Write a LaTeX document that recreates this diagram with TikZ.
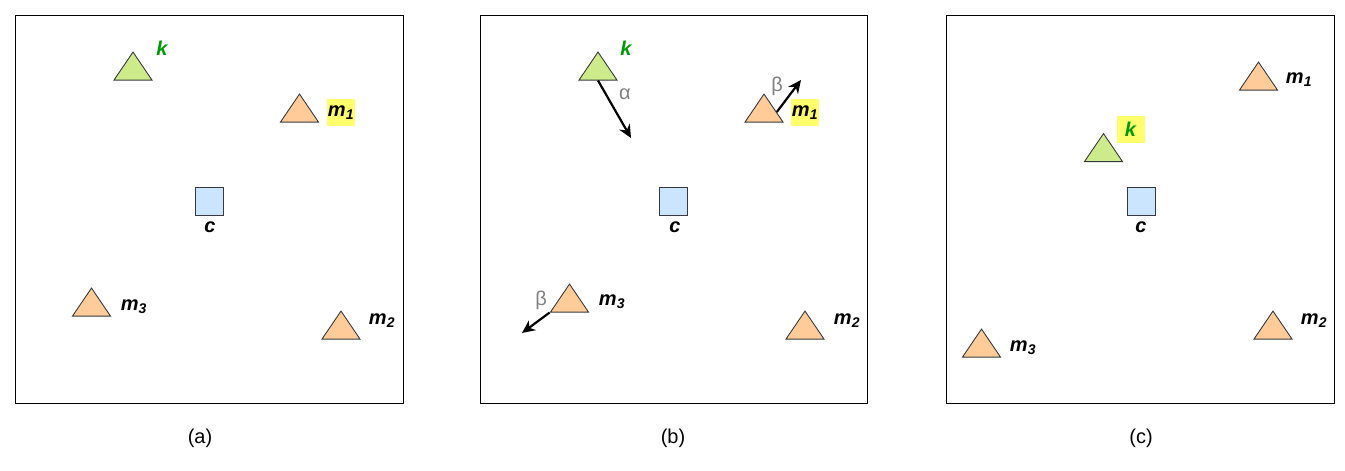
\documentclass[tikz,border=0pt]{standalone}
\usepackage{fontspec}
\setmainfont{Liberation Sans}
\usetikzlibrary{shapes.geometric, arrows.meta, positioning, calc}
\definecolor{cGreen}{RGB}{205,235,139}
\definecolor{cOrange}{RGB}{255,204,153}
\definecolor{cBlue}{RGB}{204,229,255}
\definecolor{cLine}{RGB}{54,57,61}
\definecolor{cLabel}{RGB}{0,153,0}
\definecolor{cMark}{RGB}{255,255,110}
\definecolor{cAngle}{RGB}{128,128,128}
\tikzset{
  panel/.style={draw=black, line width=0.9pt},
  tri/.style={isosceles triangle, isosceles triangle stretches,
              shape border rotate=90, minimum width=38pt, minimum height=28pt,
              inner sep=0pt, draw=cLine, line width=0.9pt, yshift=-4pt},
  keytri/.style={tri, fill=cGreen},
  memtri/.style={tri, fill=cOrange},
  centre/.style={rectangle, minimum size=28pt, inner sep=0pt,
                 draw=cLine, line width=1pt, fill=cBlue},
  lbl/.style={font=\fontsize{20}{23}\selectfont\bfseries\itshape, inner sep=1pt},
  keylbl/.style={lbl, text=cLabel},
  marked/.style={fill=cMark, minimum width=28pt, minimum height=27pt, inner sep=0pt},
  anglelbl/.style={font=\fontsize{20}{23}\selectfont, text=cAngle, inner sep=0pt},
  caption/.style={font=\fontsize{20}{23}\selectfont, inner sep=0pt},
  move/.style={-{Stealth[length=13pt, width=12pt]}, line width=2.2pt, black}
}
\begin{document}
\begin{tikzpicture}[x=1pt, y=-1pt]
  \useasboundingbox (0,0) rectangle (1345,471);

  % frames
  \draw[panel] (15,15) rectangle (403,403);
  \draw[panel] (480,15) rectangle (867,403);
  \draw[panel] (946,15) rectangle (1334,403);

  % (a)
  \node[keytri] (ka) at (133,66) {};
  \node[memtri] (m1a) at (299.5,108) {};
  \node[memtri] (m3a) at (91.5,302) {};
  \node[memtri] (m2a) at (341,325) {};
  \node[centre] (ca) at (209,201) {};
  \node[keylbl] (kla) at (162,48) {k};
  \node[lbl, marked] (m1la) at (341,112.5) {m\textsubscript{1}};
  \node[lbl] (m3la) at (134,307) {m\textsubscript{3}};
  \node[lbl] (m2la) at (382,321) {m\textsubscript{2}};
  \node[lbl] (cla) at (210,227) {c};
  \node[caption] (capa) at (200,438) {(a)};

  % (b)
  \node[keytri] (kb) at (598,66) {};
  \node[memtri] (m1b) at (764,108) {};
  \node[memtri] (m3b) at (569.5,298) {};
  \node[memtri] (m2b) at (805,325) {};
  \node[centre] (cb) at (673,201) {};
  \node[keylbl] (klb) at (626,48) {k};
  \node[lbl, marked] (m1lb) at (805,112.5) {m\textsubscript{1}};
  \node[lbl] (m3lb) at (612,302) {m\textsubscript{3}};
  \node[lbl] (m2lb) at (847,321) {m\textsubscript{2}};
  \node[lbl] (clb) at (675,227) {c};
  \node[anglelbl] (alb) at (625,94) {α};
  \node[anglelbl] (b1lb) at (777,86) {β};
  \node[anglelbl] (b3lb) at (541,300) {β};
  \coordinate (kbend) at (631,138);
  \coordinate (m1bend) at (801,80);
  \coordinate (m3bend) at (522,333);
  \draw[move] (kb.south) -- (kbend);
  \draw[move] (m1b.east) -- (m1bend);
  \draw[move] (m3b.left corner) -- (m3bend);
  \node[caption] (capb) at (673,438) {(b)};

  % (c)
  \node[memtri] (m1c) at (1258.5,76) {};
  \node[keytri] (kc) at (1103.5,147.5) {};
  \node[memtri] (m2c) at (1273,325) {};
  \node[memtri] (m3c) at (981.5,343) {};
  \node[centre] (cc) at (1141,201) {};
  \node[keylbl, marked] (klc) at (1130.5,129) {k};
  \node[lbl] (m1lc) at (1299,80) {m\textsubscript{1}};
  \node[lbl] (m2lc) at (1314,321) {m\textsubscript{2}};
  \node[lbl] (m3lc) at (1023,348) {m\textsubscript{3}};
  \node[lbl] (clc) at (1141,227) {c};
  \node[caption] (capc) at (1141,438) {(c)};
\end{tikzpicture}
\end{document}
